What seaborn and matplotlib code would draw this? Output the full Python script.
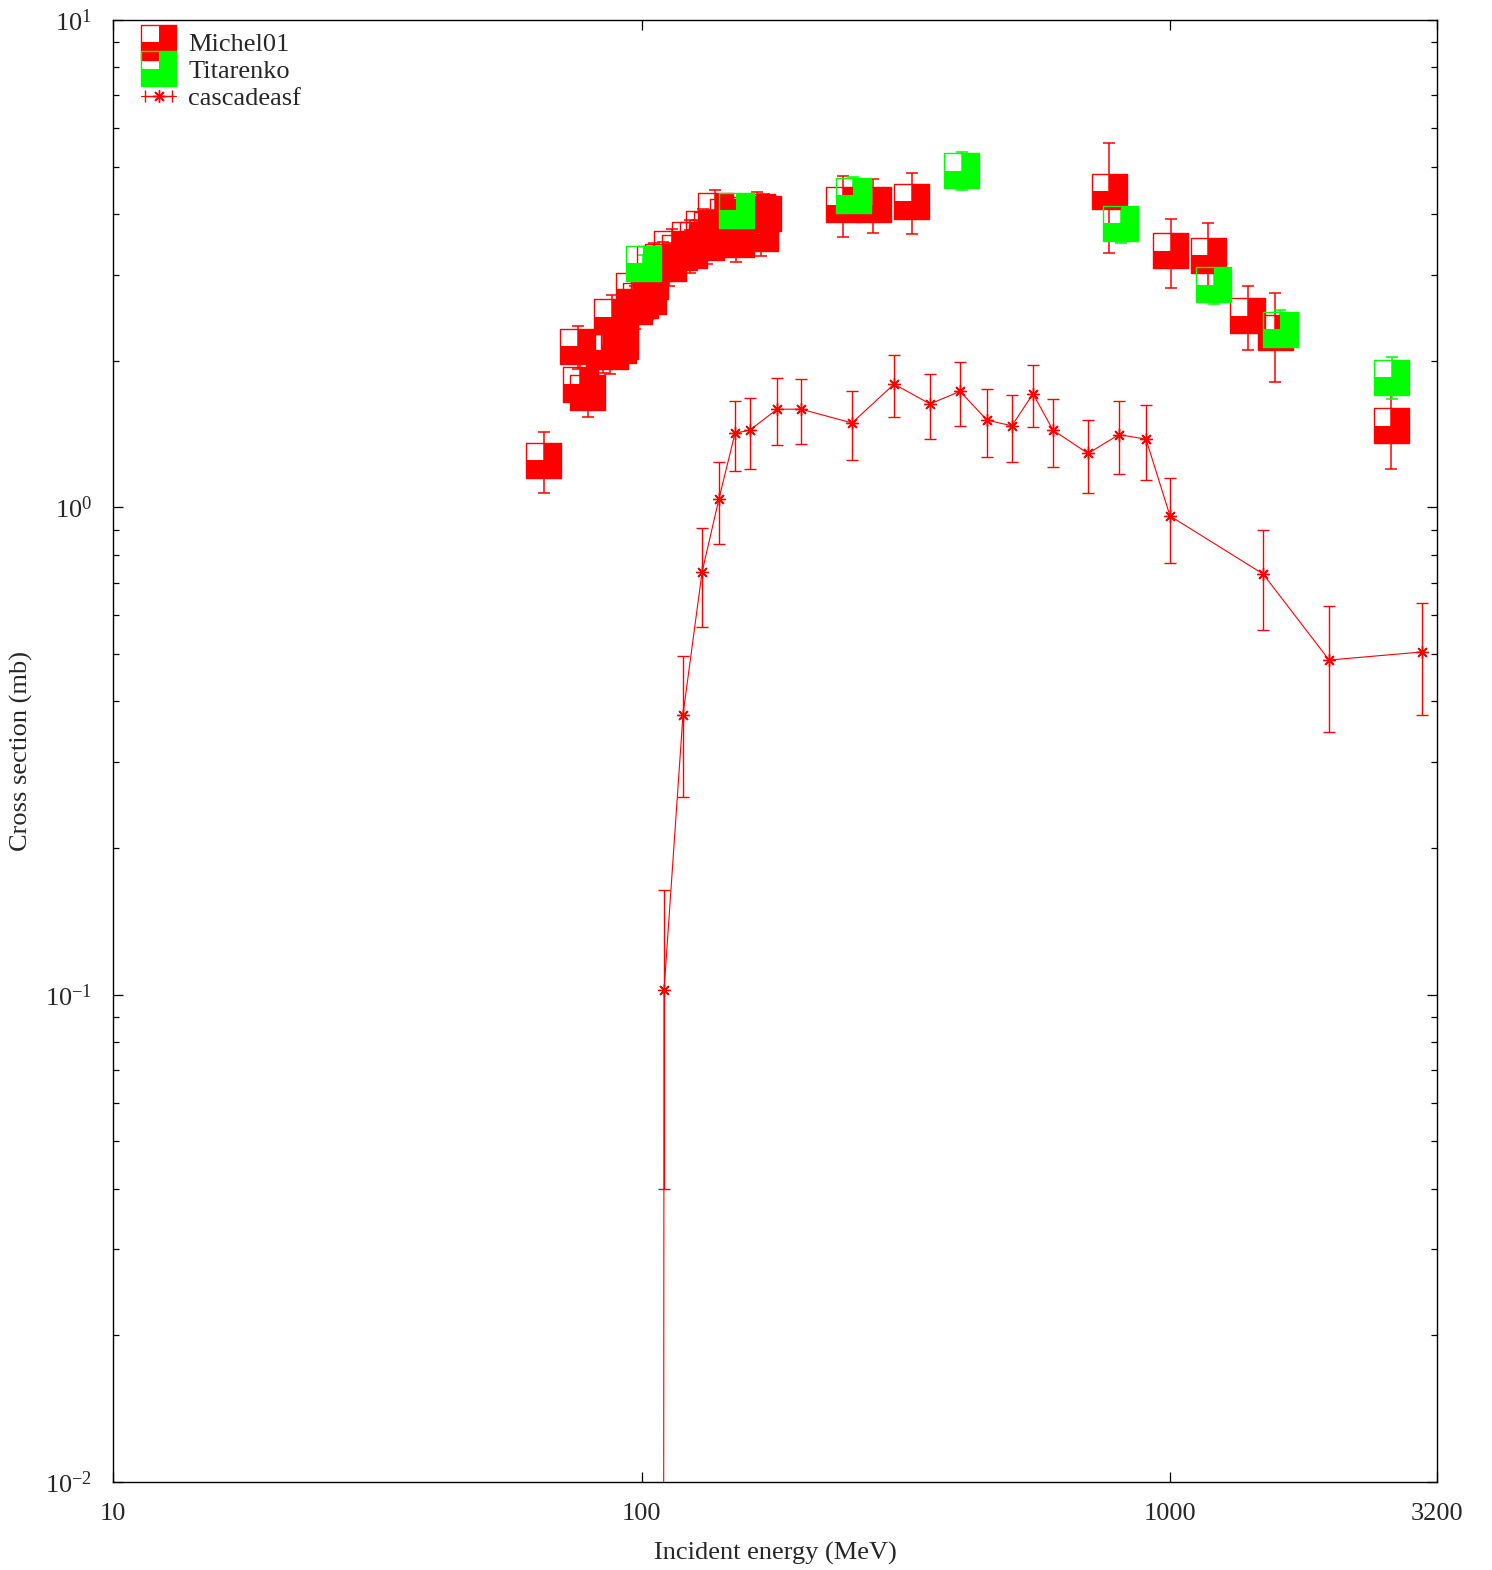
import numpy as np
import pandas as pd
import seaborn as sns
import matplotlib
matplotlib.use("Agg")
import matplotlib.pyplot as plt
from matplotlib.path import Path
from matplotlib.ticker import FixedLocator, FixedFormatter, NullLocator, LogLocator, NullFormatter
from matplotlib.legend_handler import HandlerTuple

# Michel01 measurements (energy MeV, cross section mb, error mb)
michel_energy = [65.3, 75.8, 76.5, 79.2, 84.6, 87.2, 87.9, 90.3, 91.1, 96.4, 97.2, 99.4,
                 102.9, 103.8, 105.6, 109.8, 112.7, 114.2, 118.2, 123.5, 123.5, 127.4,
                 130.8, 133.0, 135.4, 137.8, 145.2, 150.3, 151.0, 159.1, 165.4, 168.3,
                 170.5, 240.6, 274.2, 324.9, 766.7, 1004, 1180, 1404, 1580, 2619]
michel_xs = [1.25, 2.14, 1.79, 1.72, 2.10, 2.09, 2.46, 2.15, 2.19, 2.79, 2.58, 2.66,
             2.71, 2.91, 3.17, 3.19, 3.16, 3.39, 3.34, 3.54, 3.37, 3.54,
             3.73, 3.50, 3.71, 4.07, 3.96, 3.78, 3.55, 3.98, 4.04, 3.64,
             4.00, 4.18, 4.18, 4.25, 4.45, 3.36, 3.29, 2.47, 2.28, 1.47]
michel_err = [0.18, 0.22, 0.18, 0.19, 0.21, 0.21, 0.27, 0.22, 0.22, 0.28, 0.26, 0.27,
              0.27, 0.29, 0.32, 0.32, 0.32, 0.34, 0.33, 0.35, 0.34, 0.35,
              0.37, 0.35, 0.37, 0.41, 0.40, 0.38, 0.36, 0.40, 0.40, 0.36,
              0.40, 0.60, 0.53, 0.61, 1.13, 0.54, 0.54, 0.37, 0.47, 0.27]

# Titarenko measurements
titarenko_energy = [100.7, 151.0, 251.3, 403.3, 806.6, 1211, 1615, 2625]
titarenko_xs = [3.17, 4.07, 4.37, 4.91, 3.83, 2.86, 2.32, 1.85]
titarenko_err = [0.12, 0.12, 0.40, 0.44, 0.35, 0.25, 0.22, 0.18]

# cascadeasf calculation
cascade_energy = [110.0, 110.3, 119.8, 130.2, 140.1, 150.3, 160.4, 180.5, 200.4, 250.2,
                  300.5, 351.5, 400.5, 450.5, 502.0, 550.6, 600.5, 699.6, 800.7, 900.7,
                  1000, 1500, 2000, 3000]
cascade_xs = [0.001, 0.102, 0.375, 0.737, 1.04, 1.42, 1.44, 1.59, 1.59, 1.49,
              1.79, 1.63, 1.73, 1.51, 1.47, 1.71, 1.44, 1.29, 1.41, 1.38,
              0.96, 0.73, 0.486, 0.505]
cascade_err = [0.0, 0.062, 0.12, 0.17, 0.20, 0.23, 0.24, 0.25, 0.24, 0.24,
               0.26, 0.25, 0.26, 0.24, 0.23, 0.25, 0.23, 0.22, 0.24, 0.24,
               0.19, 0.17, 0.14, 0.13]

xtick_vals = [10, 100, 1000, 3200]
xtick_labels = ["10", "100", "1000", "3200"]

sns.set_style("ticks")
plt.rcParams["font.family"] = ["Liberation Serif", "DejaVu Serif"]
plt.rcParams["mathtext.fontset"] = "custom"
plt.rcParams["mathtext.rm"] = "Liberation Serif"
plt.rcParams["mathtext.it"] = "Liberation Serif:italic"
plt.rcParams["mathtext.bf"] = "Liberation Serif:bold"

fig = plt.figure(figsize=(14.92, 15.70), dpi=100)
ax = fig.add_axes([113 / 1492, 1 - 1482 / 1570, (1437 - 113) / 1492, (1482 - 20) / 1570])
ax.set_xscale("log")
ax.set_yscale("log")

# gnuplot-like box marker: filled except the upper-left quarter, plus outline
l_marker = Path([(0, 1), (1, 1), (1, -1), (-1, -1), (-1, 0), (0, 0), (0, 1)], closed=True)
box_marker = Path([(-1, -1), (1, -1), (1, 1), (-1, 1), (-1, -1)], closed=True)
msize = 635

def boxes(x, y, err, col):
    ax.errorbar(x, y, yerr=err, fmt="none", ecolor=col, elinewidth=1.1,
                capsize=4.3, capthick=1.1, zorder=2)
    sns.scatterplot(x=x, y=y, marker=l_marker, s=msize, color=col,
                    edgecolor="none", linewidth=0, ax=ax, zorder=3)
    fill = ax.collections[-1]
    sns.scatterplot(x=x, y=y, marker=box_marker, s=msize, color=col,
                    facecolor="none", edgecolor=col, linewidth=1.0, ax=ax, zorder=3)
    box = ax.collections[-1]
    return fill, box

m_fill, m_box = boxes(michel_energy, michel_xs, michel_err, "#ff0000")
t_fill, t_box = boxes(titarenko_energy, titarenko_xs, titarenko_err, "#00ff00")

ax.errorbar(cascade_energy, cascade_xs, yerr=cascade_err, fmt="none", ecolor="#ff0000",
            elinewidth=1.0, capsize=4.3, capthick=1.0, zorder=4)
sns.lineplot(x=cascade_energy, y=cascade_xs, color="#ff0000", linewidth=0.8,
             marker=(8, 2, 0), markersize=9, markeredgecolor="#ff0000",
             markeredgewidth=1.0, estimator=None, sort=False, ax=ax, zorder=4)

# legend proxy for the calculation (outside the view)
eb = ax.errorbar([1.0], [1.0], xerr=[0.1], color="#ff0000", linewidth=0.8,
                 marker=(8, 2, 0), markersize=9, markeredgecolor="#ff0000",
                 elinewidth=1.0, capsize=4.3, capthick=1.0)

ax.set_xlim(10, 3200)
ax.set_ylim(0.01, 10)
ax.xaxis.set_major_locator(FixedLocator(xtick_vals))
ax.xaxis.set_major_formatter(FixedFormatter(xtick_labels))
ax.xaxis.set_minor_locator(NullLocator())
ax.yaxis.set_major_locator(LogLocator(base=10))
ax.yaxis.set_minor_locator(LogLocator(base=10, subs=np.arange(2, 10)))
ax.yaxis.set_minor_formatter(NullFormatter())

ax.tick_params(which="both", direction="in", top=True, right=True, bottom=True, left=True,
               color="black")
ax.tick_params(which="major", length=7, width=0.9, labelsize=19)
ax.tick_params(axis="x", which="major", pad=15)
ax.tick_params(axis="y", which="major", pad=15)
ax.tick_params(which="minor", length=4, width=0.9)
for sp in ax.spines.values():
    sp.set_color("black")
    sp.set_linewidth(1.0)

ax.set_xlabel("Incident energy (MeV)", fontsize=19, labelpad=12)
ax.set_ylabel("Cross section (mb)", fontsize=19)
ax.yaxis.set_label_coords(-0.0605, 0.5)

ax.legend([(m_fill, m_box), (t_fill, t_box), eb], ["Michel01", "Titarenko", "cascadeasf"],
          handler_map={tuple: HandlerTuple(ndivide=1, pad=0)},
          loc="upper left", bbox_to_anchor=(0.021, 0.9911), frameon=False, fontsize=19,
          labelspacing=0.12, handlelength=1.35, handletextpad=0.45, borderpad=0,
          borderaxespad=0, scatterpoints=1, scatteryoffsets=[0.5])

fig.savefig("out.png", dpi=100)
